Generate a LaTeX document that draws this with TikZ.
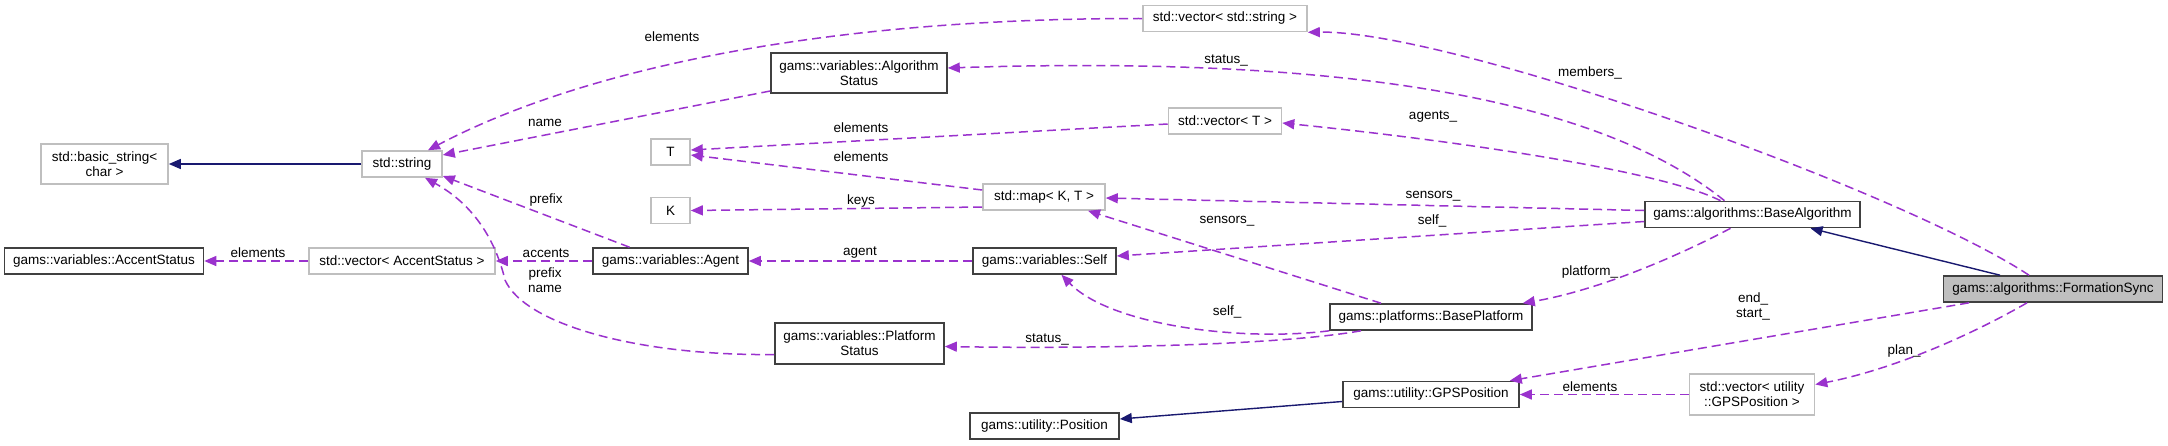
\documentclass[tikz,border=0pt]{standalone}
\usepackage{fontspec}
\setmainfont{Liberation Sans}
\usetikzlibrary{arrows.meta}
\definecolor{depline}{HTML}{9A32CD}
\definecolor{inhline}{HTML}{191970}
\definecolor{boxgrey}{HTML}{BFBFBF}

\begin{document}
\begin{tikzpicture}[
            x=1pt, y=-1pt,
            every node/.style={font=\fontsize{13.5}{15}\selectfont},
            box/.style={
                draw=black!75,
                line width=1.6pt,
                minimum height=26pt,
                inner sep=2pt,
                align=center
            },
            extbox/.style={box, draw=boxgrey},
            focusbox/.style={box, fill=boxgrey},
            arrow/.style={-{Triangle[length=12pt,width=10pt]}, line width=1.5pt, depline, dash pattern=on 9pt off 5pt},
            inherit/.style={-{Triangle[length=12pt,width=10pt]}, line width=1.4pt, inhline},
            lbl/.style={inner sep=0pt, align=center}
        ]

        \fill[white] (0,0) rectangle (2168,445);
        \useasboundingbox (0,0) rectangle (2168,445);

        \node[extbox, minimum width=127pt, minimum height=40pt] (basicstr) at (104.5,164) {std::basic\_string<\\char >};
        \node[extbox, minimum width=80pt] (stdstr) at (402,164) {std::string};
        \node[box, minimum width=199pt] (accst) at (104,261) {gams::variables::AccentStatus};
        \node[extbox, minimum width=186pt] (vecacc) at (402,261) {std::vector< AccentStatus >};
        \node[box, minimum width=176pt, minimum height=40pt] (algst) at (859,73) {gams::variables::Algorithm\\Status};
        \node[extbox, minimum width=39pt] (tT) at (670.5,152) {T};
        \node[extbox, minimum width=39pt] (tK) at (670.5,210.5) {K};
        \node[box, minimum width=155pt] (agent) at (670.5,261) {gams::variables::Agent};
        \node[box, minimum width=169pt, minimum height=41pt] (platst) at (859.5,343.5) {gams::variables::Platform\\Status};
        \node[box, minimum width=149pt] (pos) at (1044.5,426) {gams::utility::Position};
        \node[extbox, minimum width=164pt] (vecstr) at (1225,18.5) {std::vector< std::string >};
        \node[extbox, minimum width=113pt] (vecT) at (1225,121) {std::vector< T >};
        \node[extbox, minimum width=122pt] (mapKT) at (1044,197) {std::map< K, T >};
        \node[box, minimum width=143pt] (self) at (1044.5,261) {gams::variables::Self};
        \node[box, minimum width=202pt] (bplat) at (1431,317) {gams::platforms::BasePlatform};
        \node[box, minimum width=176pt] (gps) at (1431,394.5) {gams::utility::GPSPosition};
        \node[box, minimum width=215pt] (balg) at (1752.5,214.5) {gams::algorithms::BaseAlgorithm};
        \node[focusbox, minimum width=219pt] (fsync) at (2053,289) {gams::algorithms::FormationSync};
        \node[extbox, minimum width=125pt, minimum height=41pt] (vecgps) at (1752,394.5) {std::vector< utility\\::GPSPosition >};

        \draw[inherit] (stdstr.west) -- (basicstr.east);
        \draw[arrow] (vecstr.west) .. controls (820,18) and (580,70) .. ([xshift=26pt]stdstr.north);
        \draw[arrow] ([yshift=-18pt]algst.west) -- ([yshift=9pt]stdstr.east);
        \draw[arrow] ([xshift=-41pt]agent.north) -- ([yshift=-12pt]stdstr.east);
        \draw[arrow] ([yshift=-11pt]platst.west) .. controls (640,356) and (525,325) .. (505,280)
            .. controls (498,250) and (480,208) .. ([xshift=23pt]stdstr.south);
        \draw[arrow] (vecacc.west) -- (accst.east);
        \draw[arrow] (agent.west) -- (vecacc.east);
        \draw[arrow] ([yshift=7pt]mapKT.west) -- ([yshift=-3pt]tT.east);
        \draw[arrow] ([yshift=-3pt]vecT.west) -- ([yshift=2pt]tT.east);
        \draw[arrow] ([yshift=-10pt]mapKT.west) -- (tK.east);
        \draw[arrow] (self.west) -- (agent.east);
        \draw[arrow] ([xshift=-24pt]fsync.north) .. controls (1900,190) and (1450,30) .. (vecstr.south east);
        \draw[arrow] ([xshift=-28pt]balg.north) .. controls (1600,100) and (1350,55) .. ([yshift=5pt]algst.east);
        \draw[arrow] ([xshift=-32pt]balg.north) .. controls (1660,170) and (1450,140) .. ([yshift=-2pt]vecT.east);
        \draw[arrow] ([yshift=4pt]balg.west) -- ([yshift=-1pt]mapKT.east);
        \draw[arrow] ([yshift=-7pt]balg.west) -- ([yshift=5pt]self.east);
        \draw[arrow] ([xshift=-22pt]balg.south) .. controls (1680,255) and (1600,290) .. ([xshift=-10pt]bplat.north east);
        \draw[arrow] ([xshift=-50pt]bplat.north) -- ([xshift=44pt]mapKT.south);
        \draw[arrow] (bplat.south west) .. controls (1240,342) and (1110,325) .. ([xshift=17pt]self.south);
        \draw[arrow] ([xshift=-70pt]bplat.south) .. controls (1280,345) and (1100,349) .. ([yshift=-3pt]platst.east);
        \draw[inherit] ([xshift=-53pt]fsync.north) -- ([xshift=58pt]balg.south);
        \draw[arrow] ([xshift=-84pt]fsync.south) -- ([xshift=-10pt]gps.north east);
        \draw[arrow] ([xshift=-26pt]fsync.south) .. controls (1980,330) and (1900,368) .. ([yshift=10pt]vecgps.east);
        \draw[arrow] (vecgps.west) -- (gps.east);
        \draw[inherit] ([yshift=-7pt]gps.west) -- ([yshift=7pt]pos.east);

        \node[lbl] (lvecstr) at (672,37) {elements};
        \node[lbl] (lalgname) at (545,123) {name};
        \node[lbl] (lagprefix) at (546,200) {prefix};
        \node[lbl] (laccents) at (546,253) {accents};
        \node[lbl] (lplatname) at (545,280) {prefix\\name};
        \node[lbl] (lvecacc) at (258,253) {elements};
        \node[lbl] (lvecT) at (861,128) {elements};
        \node[lbl] (lmapT) at (861,157) {elements};
        \node[lbl] (lkeys) at (861,201) {keys};
        \node[lbl] (lagent) at (860,253) {agent};
        \node[lbl] (lplatst) at (1047,339) {status\_};
        \node[lbl] (lalgst) at (1226,60) {status\_};
        \node[lbl] (lmembers) at (1590,73) {members\_};
        \node[lbl] (lagents) at (1433,117) {agents\_};
        \node[lbl] (lsensalg) at (1433,196) {sensors\_};
        \node[lbl] (lselfalg) at (1432,221) {self\_};
        \node[lbl] (lsensplat) at (1227,221) {sensors\_};
        \node[lbl] (lplatform) at (1590,272) {platform\_};
        \node[lbl] (lselfplat) at (1227,312) {self\_};
        \node[lbl] (lendstart) at (1753,306) {end\_\\start\_};
        \node[lbl] (lplan) at (1904,351) {plan\_};
        \node[lbl] (lvecgps) at (1590,387) {elements};

        \end{tikzpicture}
\end{document}
